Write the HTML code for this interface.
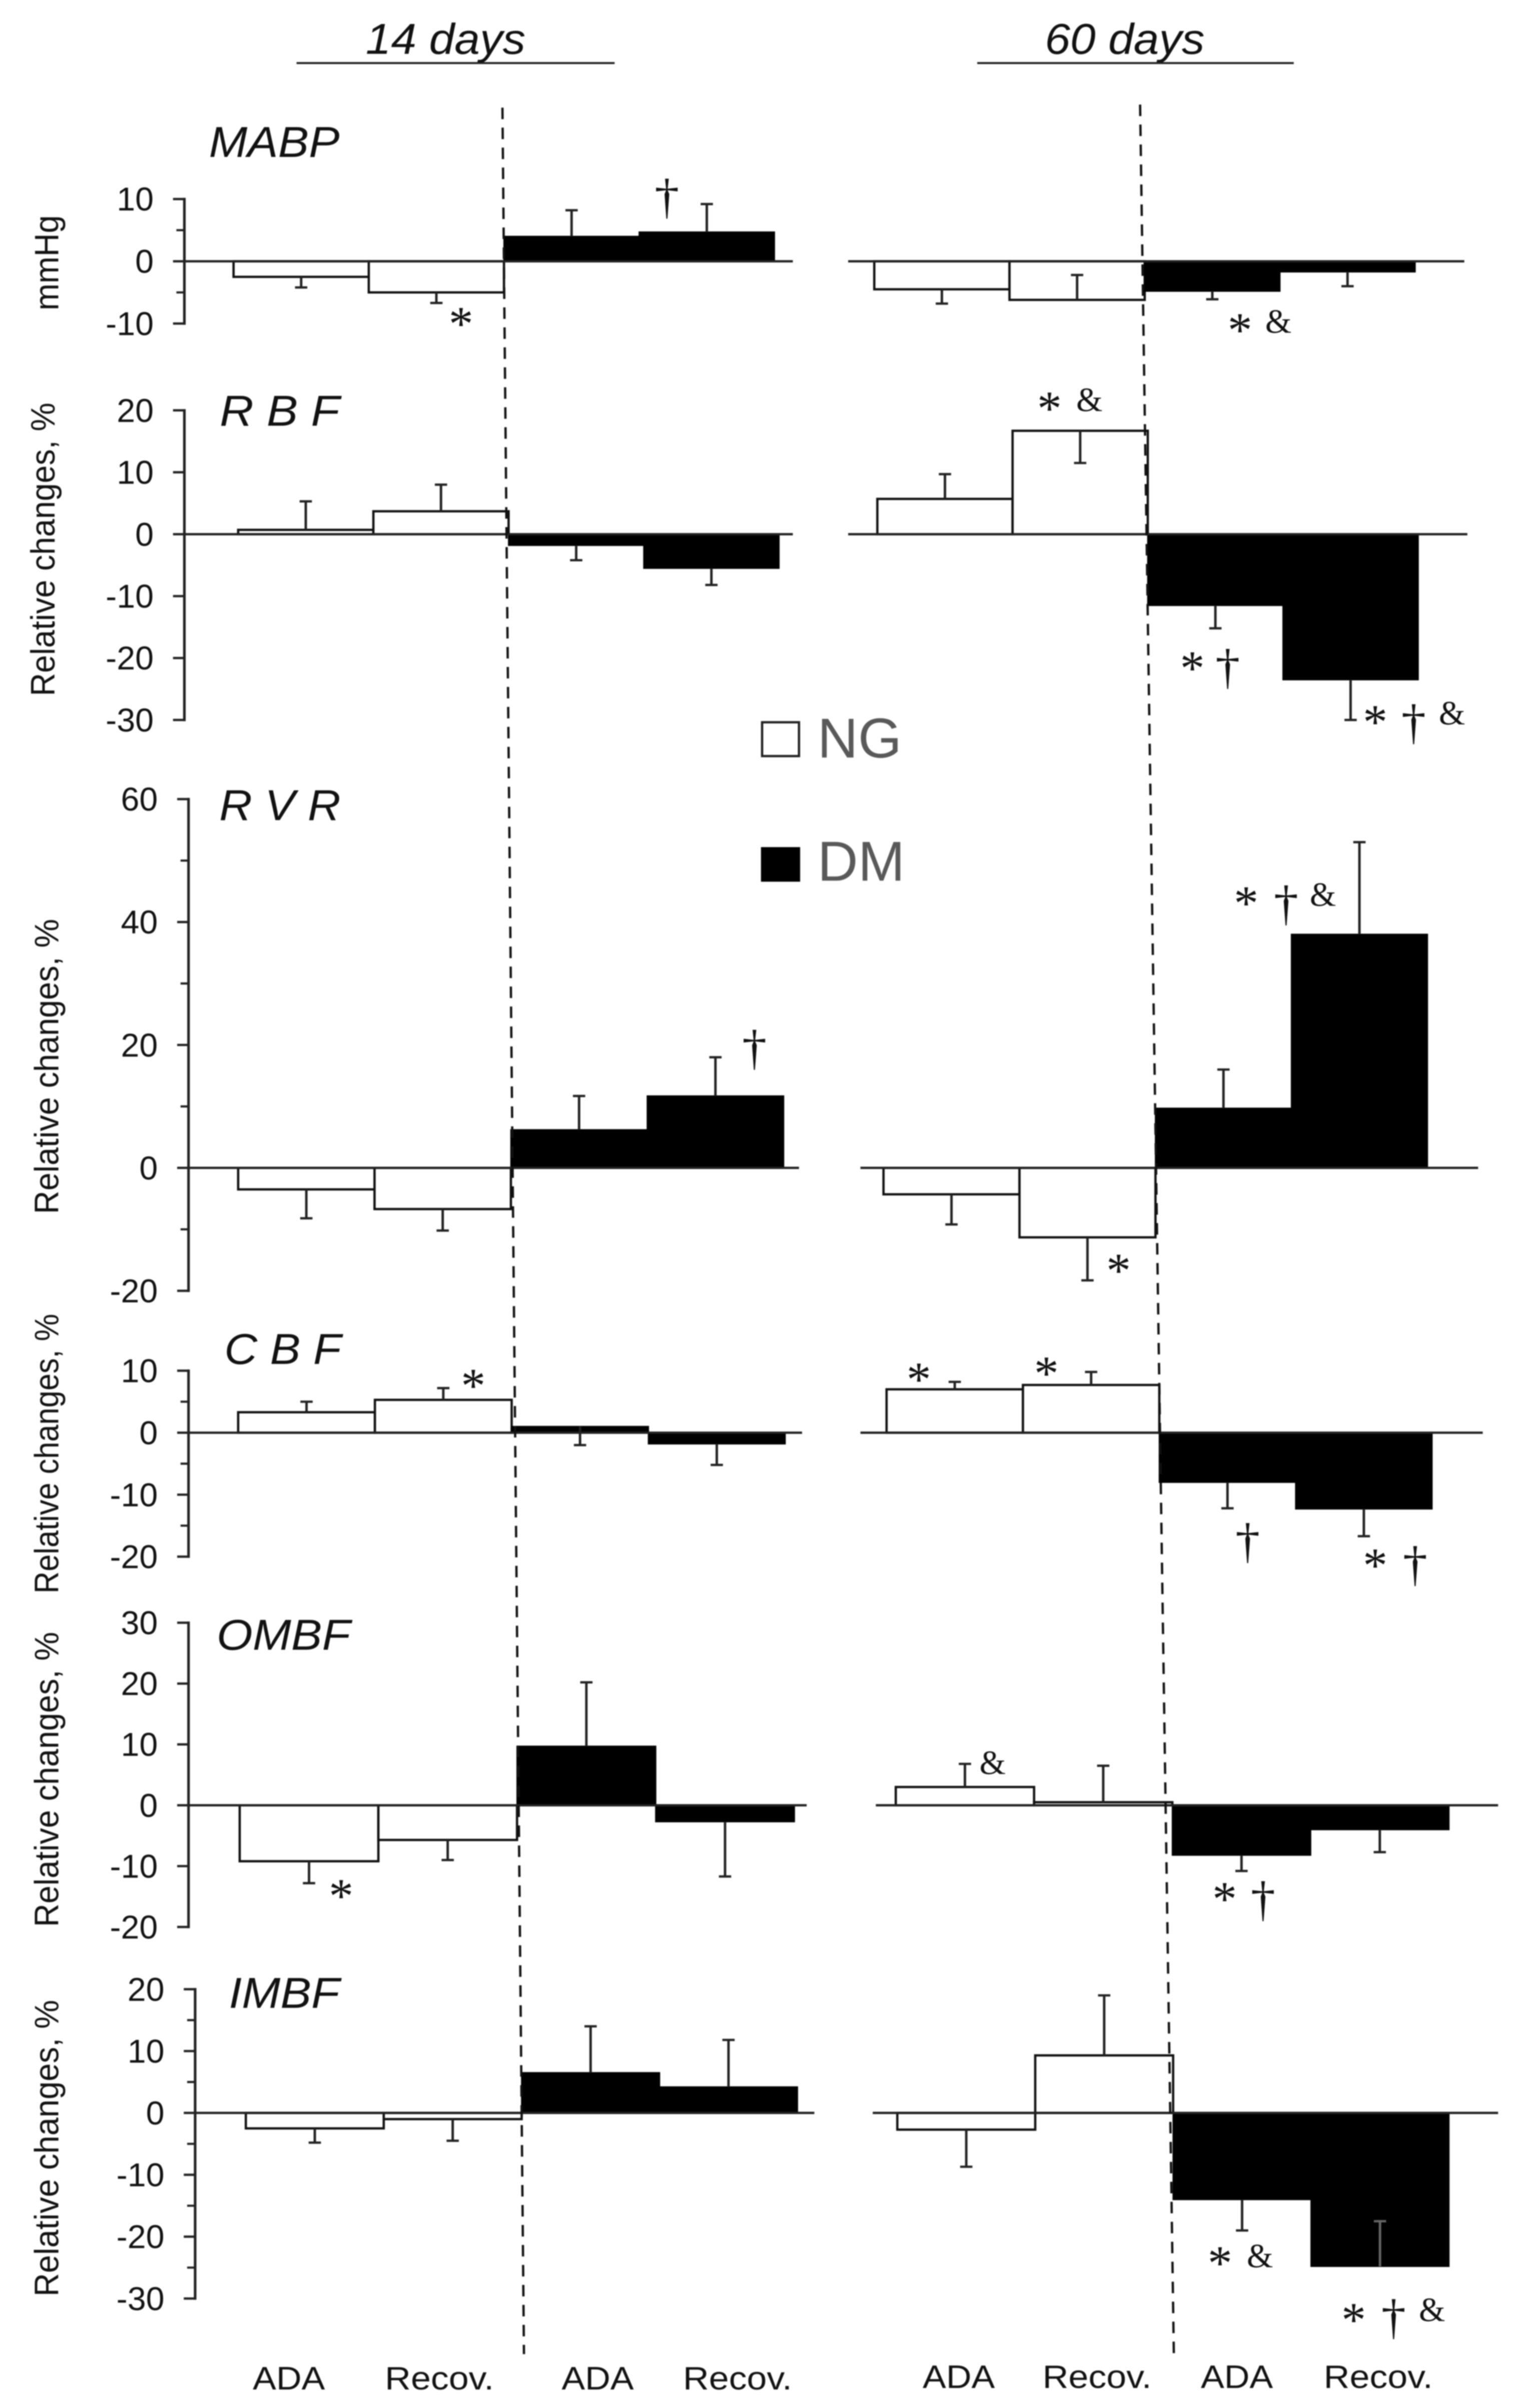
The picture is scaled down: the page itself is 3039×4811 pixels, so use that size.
<!DOCTYPE html>
<html lang="en">
<head>
<meta charset="utf-8">
<title>Relative changes at 14 and 60 days</title>
<style>
html,body{margin:0;padding:0;background:#fff;}
svg{display:block;width:3039px;height:4811px;filter:blur(1px);}
text{font-family:"Liberation Sans",sans-serif;fill:#111;}
.tick{font-size:21.6px;text-anchor:end;}
.ylab{font-size:22px;text-anchor:middle;}
.ttl{font-size:28px;font-style:italic;}
.cat{font-size:21px;text-anchor:middle;}
.leg{font-size:36.6px;fill:#595959;}
.ast{font-family:"Liberation Serif",serif;font-size:32px;text-anchor:middle;transform:translateY(-2.5px);}
.dag{font-family:"Liberation Serif",serif;font-size:32px;text-anchor:middle;transform:translateY(-1.5px);}
.amp{font-family:"Liberation Serif",serif;font-size:22px;text-anchor:middle;transform:translateY(-1.5px);}
</style>
</head>
<body>
<svg id="fig" xmlns="http://www.w3.org/2000/svg" viewBox="0 0 989.9 1567">
  <rect width="989.9" height="1567" fill="#fff"/>
  <g id="plots"></g>

  <line x1="327" y1="70" x2="341" y2="1532" stroke="#111" stroke-width="1.5" stroke-dasharray="7.5 5.5"/>
  <line x1="742" y1="68" x2="764" y2="1535" stroke="#111" stroke-width="1.5" stroke-dasharray="7.5 5.5"/>

  <text class="ttl" x="290" y="35" text-anchor="middle" textLength="104" lengthAdjust="spacingAndGlyphs">14 days</text>
  <line x1="193" y1="41" x2="400" y2="41" stroke="#222" stroke-width="1.3"/>
  <text class="ttl" x="732" y="35" text-anchor="middle" textLength="104" lengthAdjust="spacingAndGlyphs">60 days</text>
  <line x1="636" y1="41" x2="842" y2="41" stroke="#222" stroke-width="1.3"/>

  <text class="ttl" x="136" y="102" textLength="85" lengthAdjust="spacingAndGlyphs">MABP</text>
  <text class="ttl" x="143" y="277" textLength="78" lengthAdjust="spacingAndGlyphs">R B F</text>
  <text class="ttl" x="142.7" y="533.7" textLength="79" lengthAdjust="spacingAndGlyphs">R V R</text>
  <text class="ttl" x="146" y="887.5" textLength="76" lengthAdjust="spacingAndGlyphs">C B F</text>
  <text class="ttl" x="141" y="1073.5" textLength="87" lengthAdjust="spacingAndGlyphs">OMBF</text>
  <text class="ttl" x="149" y="1306.7" textLength="72" lengthAdjust="spacingAndGlyphs">IMBF</text>

  <text class="ylab" transform="translate(38,171) rotate(-90)" textLength="62" lengthAdjust="spacingAndGlyphs">mmHg</text>
  <text class="ylab" transform="translate(35.5,357.5) rotate(-90)" textLength="191" lengthAdjust="spacingAndGlyphs">Relative changes, %</text>
  <text class="ylab" transform="translate(38,694) rotate(-90)" textLength="192" lengthAdjust="spacingAndGlyphs">Relative changes, %</text>
  <text class="ylab" transform="translate(38,946) rotate(-90)" textLength="182" lengthAdjust="spacingAndGlyphs">Relative changes, %</text>
  <text class="ylab" transform="translate(38,1158) rotate(-90)" textLength="192" lengthAdjust="spacingAndGlyphs">Relative changes, %</text>
  <text class="ylab" transform="translate(38,1398) rotate(-90)" textLength="193" lengthAdjust="spacingAndGlyphs">Relative changes, %</text>

  <rect x="496" y="470" width="24" height="22" fill="#fff" stroke="#222" stroke-width="1.5"/>
  <text class="leg" x="532" y="493">NG</text>
  <rect x="496" y="552" width="24" height="21" fill="#000" stroke="#000" stroke-width="1.5"/>
  <text class="leg" x="532" y="573">DM</text>

  <text class="cat" x="188" y="1555" textLength="47" lengthAdjust="spacingAndGlyphs">ADA</text>
  <text class="cat" x="286" y="1555" textLength="71" lengthAdjust="spacingAndGlyphs">Recov.</text>
  <text class="cat" x="389" y="1555" textLength="47" lengthAdjust="spacingAndGlyphs">ADA</text>
  <text class="cat" x="480" y="1555" textLength="71" lengthAdjust="spacingAndGlyphs">Recov.</text>
  <text class="cat" x="624" y="1554" textLength="47" lengthAdjust="spacingAndGlyphs">ADA</text>
  <text class="cat" x="714" y="1554" textLength="71" lengthAdjust="spacingAndGlyphs">Recov.</text>
  <text class="cat" x="805" y="1554" textLength="47" lengthAdjust="spacingAndGlyphs">ADA</text>
  <text class="cat" x="897" y="1554" textLength="71" lengthAdjust="spacingAndGlyphs">Recov.</text>

  <g>
    <text class="ast" x="300" y="224">*</text>
    <text class="dag" x="434" y="140">†</text>
    <text class="ast" x="807" y="228">*</text>
    <text class="amp" x="832" y="218">&amp;</text>

    <text class="ast" x="683" y="279">*</text>
    <text class="amp" x="709" y="269">&amp;</text>
    <text class="ast" x="776" y="448">*</text>
    <text class="dag" x="799" y="446">†</text>
    <text class="ast" x="895" y="483">*</text>
    <text class="dag" x="920" y="482">†</text>
    <text class="amp" x="945" y="473">&amp;</text>

    <text class="dag" x="491" y="694">†</text>
    <text class="ast" x="811" y="601">*</text>
    <text class="dag" x="837" y="600">†</text>
    <text class="amp" x="861" y="591">&amp;</text>
    <text class="ast" x="728" y="840">*</text>

    <text class="ast" x="308" y="915">*</text>
    <text class="ast" x="598" y="911">*</text>
    <text class="ast" x="681" y="907">*</text>
    <text class="dag" x="812" y="1015">†</text>
    <text class="ast" x="895" y="1032">*</text>
    <text class="dag" x="921" y="1030">†</text>

    <text class="ast" x="222" y="1247">*</text>
    <text class="amp" x="646" y="1156">&amp;</text>
    <text class="ast" x="797" y="1249">*</text>
    <text class="dag" x="822" y="1248">†</text>

    <text class="ast" x="794" y="1486">*</text>
    <text class="amp" x="820" y="1477">&amp;</text>
    <text class="ast" x="881" y="1523">*</text>
    <text class="dag" x="907" y="1520">†</text>
    <text class="amp" x="932" y="1512">&amp;</text>
  </g>
</svg>

<script>
// Bar order in each group: NG ADA, NG Recov., DM ADA, DM Recov.
const mabp14Values = [-2.5, -5, 4, 4.7];
const mabp14Errors = [-4.2, -6.7, 8.2, 9.2];
const mabp60Values = [-4.5, -6.2, -4.8, -1.7];
const mabp60Errors = [-6.8, -2.2, -6.1, -4];
const mabpTicks = [10, 0, -10];
const mabpMinor = [5, -5];

const rbf14Values = [0.7, 3.7, -1.8, -5.5];
const rbf14Errors = [5.3, 8, -4.2, -8.2];
const rbf60Values = [5.7, 16.7, -11.5, -23.5];
const rbf60Errors = [9.7, 11.5, -15.2, -30];
const rbfTicks = [20, 10, 0, -10, -20, -30];
const rbfMinor = [];

const rvr14Values = [-3.5, -6.7, 6.2, 11.7];
const rvr14Errors = [-8.2, -10.2, 11.7, 18];
const rvr60Values = [-4.3, -11.3, 9.7, 38];
const rvr60Errors = [-9.2, -18.3, 16, 53];
const rvrTicks = [60, 40, 20, 0, -20];
const rvrMinor = [50, 30, 10, -10];

const cbf14Values = [3.3, 5.3, 1, -1.8];
const cbf14Errors = [5, 7.2, -2, -5.2];
const cbf60Values = [7, 7.7, -8, -12.3];
const cbf60Errors = [8.2, 9.8, -12.2, -16.7];
const cbfTicks = [10, 0, -10, -20];
const cbfMinor = [5, -5, -15];

const ombf14Values = [-9.2, -5.7, 9.7, -2.7];
const ombf14Errors = [-12.8, -9, 20.2, -11.7];
const ombf60Values = [3, 0.5, -8.2, -4];
const ombf60Errors = [6.8, 6.5, -10.8, -7.7];
const ombfTicks = [30, 20, 10, 0, -10, -20];
const ombfMinor = [];

const imbf14Values = [-2.5, -1, 6.5, 4.2];
const imbf14Errors = [-4.8, -4.5, 14, 11.8];
const imbf60Values = [-2.7, 9.3, -14, -24.8];
const imbf60Errors = [-8.7, 19, -19, -17.5];
const imbfTicks = [20, 10, 0, -10, -20, -30];
const imbfMinor = [15, 5, -5, -15, -25];

const SVGNS = 'http://www.w3.org/2000/svg';
const plots = document.getElementById('plots');

function makeEl(tag, attrs, parent) {
  const el = document.createElementNS(SVGNS, tag);
  for (const k in attrs) el.setAttribute(k, attrs[k]);
  parent.appendChild(el);
  return el;
}

function makeScale(vTop, yTop, vBottom, yBottom) {
  return function (v) {
    return yTop + (v - vTop) * (yBottom - yTop) / (vBottom - vTop);
  };
}

function drawAxis(g, axisX, y, ticks, minor) {
  const line = makeEl('line', {x1: axisX, x2: axisX, y1: y(ticks[0]) - 0.8, y2: y(ticks[ticks.length - 1]) + 0.8, stroke: '#222', 'stroke-width': 1.7}, g);
  
  
  ticks.forEach(function (t) {
    const tk = makeEl('line', {x1: axisX - 7.4, x2: axisX, y1: y(t), y2: y(t), stroke: '#222', 'stroke-width': 1.5}, g);
    
    
    const lb = makeEl('text', {class: 'tick', x: axisX - 20, y: y(t) + 7.5}, g);
    
    
    lb.textContent = t;
  });
  minor.forEach(function (t) {
    const tk = makeEl('line', {x1: axisX - 5.2, x2: axisX, y1: y(t), y2: y(t), stroke: '#222', 'stroke-width': 1.4}, g);
    
    
  });
}

function drawGroup(g, y, x0, x4, zeroX1, zeroX2, values, errors) {
  const bw = (x4 - x0) / values.length;
  values.forEach(function (v, i) {
    const dark = i >= 2;
    const top = Math.min(y(v), y(0));
    const h = Math.abs(y(v) - y(0));
    const rect = makeEl('rect', {x: x0 + i * bw, y: top, width: bw, height: h, fill: dark ? '#000' : '#fff', stroke: dark ? '#000' : '#111', 'stroke-width': dark ? 0.8 : 1.5}, g);
    
    
  });
  values.forEach(function (v, i) {
    const cx = x0 + (i + 0.5) * bw;
    const inside = Math.abs(errors[i]) < Math.abs(v);
    const colour = (inside && i >= 2) ? '#666' : '#222';
    const eb = makeEl('line', {x1: cx, x2: cx, y1: y(v), y2: y(errors[i]), stroke: colour, 'stroke-width': 1.6}, g);
    
    
    const cap = makeEl('line', {x1: cx - 4, x2: cx + 4, y1: y(errors[i]), y2: y(errors[i]), stroke: colour, 'stroke-width': 1.5}, g);
    
    
  });
  const zero = makeEl('line', {x1: zeroX1, x2: zeroX2, y1: y(0), y2: y(0), stroke: '#222', 'stroke-width': 1.5}, g);
  
  
}

function drawPanel(name, geo, ticks, minor, v14, e14, v60, e60) {
  const g = makeEl('g', {}, plots);
  
  
  const y = makeScale(ticks[0], geo.yTop, ticks[ticks.length - 1], geo.yBottom);
  drawGroup(g, y, geo.l0, geo.l4, geo.axisX, geo.lz, v14, e14);
  drawGroup(g, y, geo.r0, geo.r4, geo.rz0, geo.rz1, v60, e60);
  drawAxis(g, geo.axisX, y, ticks, minor);
}

drawPanel('mabp', {axisX: 120, yTop: 129.5, yBottom: 210.5, l0: 152, l4: 504, lz: 516, r0: 569, r4: 921, rz0: 552, rz1: 953}, mabpTicks, mabpMinor, mabp14Values, mabp14Errors, mabp60Values, mabp60Errors);
drawPanel('rbf', {axisX: 120, yTop: 267, yBottom: 468.5, l0: 155, l4: 507, lz: 516, r0: 571, r4: 923, rz0: 552, rz1: 955}, rbfTicks, rbfMinor, rbf14Values, rbf14Errors, rbf60Values, rbf60Errors);
drawPanel('rvr', {axisX: 122.7, yTop: 520, yBottom: 840, l0: 155, l4: 510, lz: 520, r0: 575, r4: 929, rz0: 560, rz1: 962}, rvrTicks, rvrMinor, rvr14Values, rvr14Errors, rvr60Values, rvr60Errors);
drawPanel('cbf', {axisX: 122.7, yTop: 892, yBottom: 1013, l0: 155, l4: 511, lz: 522, r0: 577, r4: 932, rz0: 560, rz1: 965}, cbfTicks, cbfMinor, cbf14Values, cbf14Errors, cbf60Values, cbf60Errors);
drawPanel('ombf', {axisX: 122.7, yTop: 1056, yBottom: 1254, l0: 156, l4: 517, lz: 525, r0: 583, r4: 943, rz0: 570, rz1: 975}, ombfTicks, ombfMinor, ombf14Values, ombf14Errors, ombf60Values, ombf60Errors);
drawPanel('imbf', {axisX: 127, yTop: 1294.5, yBottom: 1495.8, l0: 160, l4: 519, lz: 530, r0: 584, r4: 943, rz0: 568, rz1: 975}, imbfTicks, imbfMinor, imbf14Values, imbf14Errors, imbf60Values, imbf60Errors);
</script>
</body>
</html>
